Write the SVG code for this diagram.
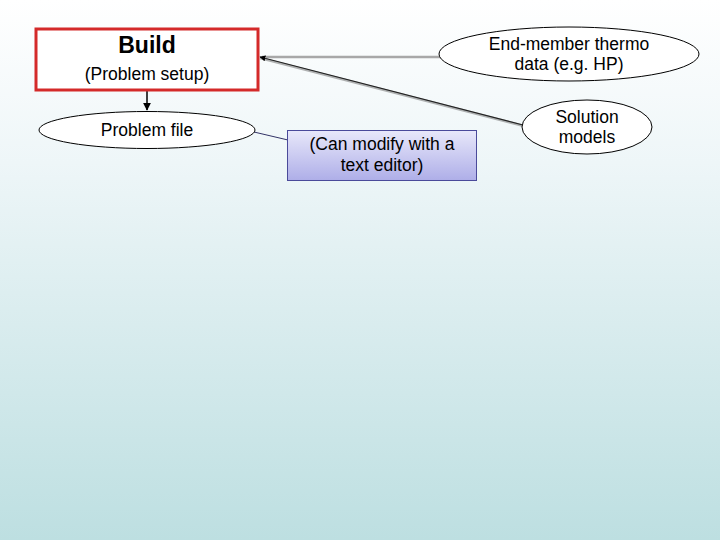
<svg xmlns="http://www.w3.org/2000/svg" width="720" height="540" viewBox="0 0 720 540">
<defs>
<linearGradient id="bg" x1="0" y1="0" x2="0" y2="1">
<stop offset="0" stop-color="#ffffff"/>
<stop offset="0.3" stop-color="#eef6f8"/>
<stop offset="1" stop-color="#bddfe1"/>
</linearGradient>
<linearGradient id="note" x1="0" y1="0" x2="0" y2="1">
<stop offset="0" stop-color="#e8e8fa"/>
<stop offset="1" stop-color="#aeaee8"/>
</linearGradient>
<marker id="ah" viewBox="0 0 10 10" refX="9" refY="5" markerWidth="6" markerHeight="6" orient="auto" markerUnits="userSpaceOnUse">
<path d="M0,0 L10,5 L0,10 z" fill="#000"/>
</marker>
<marker id="ah2" viewBox="0 0 10 10" refX="9" refY="5" markerWidth="8" markerHeight="8" orient="auto" markerUnits="userSpaceOnUse">
<path d="M0,0 L10,5 L0,10 z" fill="#000"/>
</marker>
</defs>
<style>
text{font-family:"Liberation Sans",Arial,sans-serif;fill:#000;text-anchor:middle}
.t{font-size:17.5px}
.ell{fill:#fff;stroke:#000;stroke-width:1}
</style>
<rect x="0" y="0" width="720" height="540" fill="url(#bg)"/>
<g id="connectors">
<line x1="147" y1="91" x2="147" y2="110" stroke="#000" stroke-width="1.5" marker-end="url(#ah2)"/>
<line x1="440" y1="57" x2="262" y2="57" stroke="#a8a8a8" stroke-width="2.5"/>
<line x1="524" y1="126" x2="260" y2="58" stroke="#6a6a6a" stroke-width="2.5" opacity="0.5"/>
<line x1="523" y1="125" x2="260" y2="57" stroke="#222" stroke-width="1.2" marker-end="url(#ah)"/>
<line x1="254" y1="132" x2="288" y2="140" stroke="#333366" stroke-width="1"/>
</g>
<g id="build">
<rect x="36" y="29" width="222" height="61" fill="#fff" stroke="#d42a2a" stroke-width="3"/>
<text x="147" y="53" style="font-size:23px;font-weight:bold">Build</text>
<text x="147" y="80" class="t">(Problem setup)</text>
</g>
<g id="problem-file">
<ellipse cx="147" cy="130" rx="108" ry="18.5" class="ell"/>
<text x="147" y="136" class="t">Problem file</text>
</g>
<g id="note-box">
<rect x="287.5" y="130.5" width="189" height="50" fill="url(#note)" stroke="#4a4a9a" stroke-width="1"/>
<text x="382" y="150" class="t">(Can modify with a</text>
<text x="382" y="171" class="t">text editor)</text>
</g>
<g id="end-member">
<ellipse cx="569" cy="54" rx="130" ry="27" class="ell"/>
<text x="569" y="50" class="t">End-member thermo</text>
<text x="569" y="70" class="t">data (e.g. HP)</text>
</g>
<g id="solution-models">
<ellipse cx="587" cy="127" rx="65" ry="27" class="ell"/>
<text x="587" y="123" class="t">Solution</text>
<text x="587" y="143" class="t">models</text>
</g>
</svg>
